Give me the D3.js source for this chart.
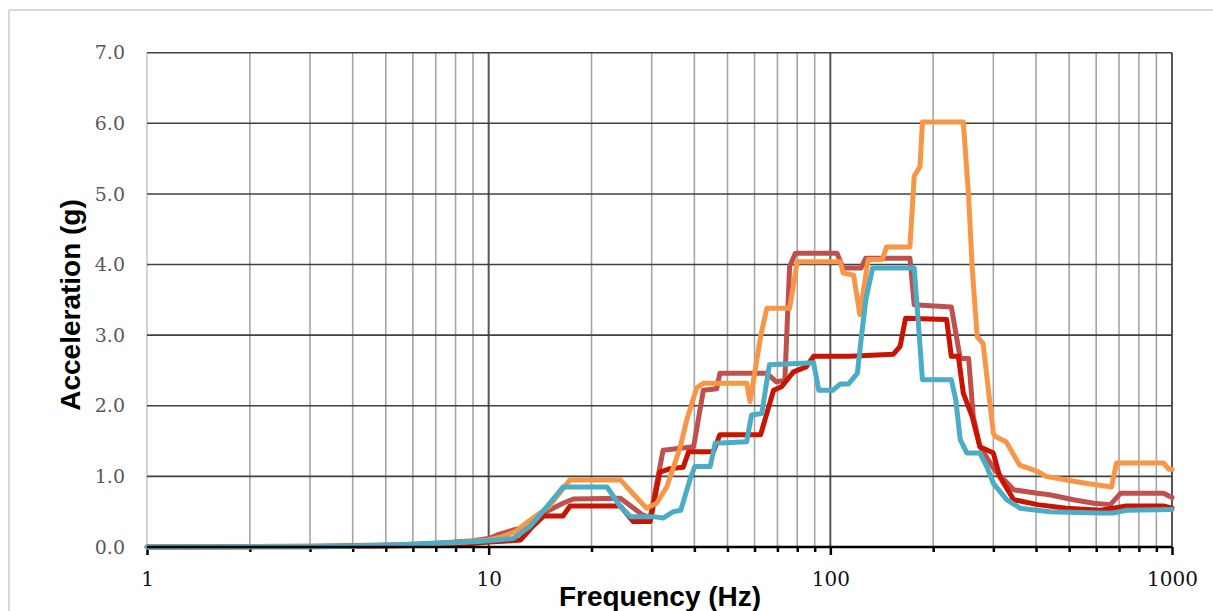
<!DOCTYPE html>
<html>
<head>
<meta charset="utf-8">
<script src="https://cdn.jsdelivr.net/npm/d3@7"></script>
<style>
  body { margin: 0; background: #fff; }
  svg { display: block; }
</style>
</head>
<body>
<script>
"use strict";
// frequency / acceleration pairs, one pair of arrays per curve
const mutedFreq = [1, 2, 3, 4, 5, 6, 7, 8, 9, 10, 10.6, 11.8, 13.2, 14.5, 16.5, 17.7, 24.3, 28.3, 29.7, 32.4, 39.8, 42.5, 46.5, 47.5, 65.2, 69.5, 73.6, 76, 79, 104.6, 109, 123, 127, 171, 176, 226, 233, 240, 254, 262, 274, 303, 344, 404, 438, 515, 590, 660, 707, 944, 1000]
const mutedVal = [0, 0.005, 0.01, 0.02, 0.03, 0.04, 0.05, 0.07, 0.09, 0.12, 0.17, 0.24, 0.29, 0.48, 0.62, 0.68, 0.69, 0.45, 0.42, 1.37, 1.42, 2.22, 2.24, 2.46, 2.46, 2.34, 2.36, 3.97, 4.16, 4.16, 3.95, 3.95, 4.09, 4.09, 3.43, 3.40, 3.03, 2.67, 2.67, 1.85, 1.42, 1.09, 0.81, 0.76, 0.74, 0.67, 0.62, 0.6, 0.76, 0.76, 0.70]

const darkFreq = [1, 2, 3, 4, 5, 6, 7, 8, 9, 10, 11, 12.4, 13.5, 14.5, 16.5, 17.3, 24.3, 26.5, 29.7, 31.7, 34, 37.1, 38.5, 45.5, 47.5, 62.5, 68.2, 72, 78, 85, 89.3, 114, 153, 160, 166, 219, 226, 237, 245, 260, 274, 300, 313, 344, 404, 491, 617, 672, 735, 944, 1000]
const darkVal = [0, 0.003, 0.005, 0.01, 0.015, 0.02, 0.03, 0.04, 0.05, 0.07, 0.08, 0.1, 0.3, 0.44, 0.44, 0.58, 0.58, 0.36, 0.36, 1.06, 1.11, 1.13, 1.35, 1.35, 1.59, 1.59, 2.22, 2.27, 2.48, 2.55, 2.70, 2.70, 2.73, 2.84, 3.24, 3.22, 2.70, 2.70, 2.18, 1.85, 1.42, 1.33, 1.0, 0.67, 0.6, 0.55, 0.52, 0.55, 0.58, 0.58, 0.55]

const orangeFreq = [1, 2, 3, 4, 5, 6, 7, 8, 9, 10, 11, 12, 13.2, 15, 17.3, 24.3, 26.5, 29, 31, 33.2, 36.3, 38, 40.6, 42.5, 56.9, 58.2, 62.5, 65.2, 76, 80, 107, 109, 117, 122, 129, 142, 146, 171, 176, 183, 186, 245, 254, 260, 269, 280, 300, 305, 327, 358, 404, 428, 491, 565, 665, 688, 944, 980, 1000]
const orangeVal = [0, 0.005, 0.01, 0.015, 0.02, 0.035, 0.05, 0.06, 0.08, 0.1, 0.15, 0.22, 0.38, 0.57, 0.95, 0.95, 0.75, 0.55, 0.62, 0.85, 1.4, 1.8, 2.25, 2.32, 2.32, 2.06, 2.98, 3.38, 3.38, 4.04, 4.04, 3.88, 3.85, 3.29, 4.07, 4.07, 4.25, 4.25, 5.25, 5.39, 6.02, 6.02, 4.96, 3.97, 2.98, 2.88, 1.61, 1.56, 1.49, 1.16, 1.07, 1.0, 0.95, 0.9, 0.85, 1.19, 1.19, 1.1, 1.1]

const tealFreq = [1, 3, 4, 5, 6, 7, 8, 9, 10, 11.8, 13.2, 14.8, 16.5, 22.2, 24.3, 26, 30.3, 32.4, 34.7, 36.5, 38.8, 40.1, 44.5, 46, 56.9, 58.8, 63, 66.3, 89.3, 92.5, 101.7, 107, 113, 120, 123, 127, 133, 176, 181, 186, 226, 233, 240, 251, 274, 287, 300, 328, 359, 438, 617, 672, 735, 1000]
const tealVal = [0, 0.005, 0.01, 0.025, 0.04, 0.055, 0.065, 0.075, 0.09, 0.12, 0.29, 0.57, 0.85, 0.85, 0.57, 0.43, 0.43, 0.41, 0.5, 0.52, 0.95, 1.14, 1.14, 1.47, 1.49, 1.87, 1.89, 2.58, 2.61, 2.22, 2.22, 2.31, 2.31, 2.46, 2.93, 3.5, 3.95, 3.95, 3.17, 2.37, 2.37, 2.08, 1.52, 1.33, 1.33, 1.14, 0.9, 0.67, 0.55, 0.5, 0.48, 0.48, 0.52, 0.53]

const yTicks = [0, 1, 2, 3, 4, 5, 6, 7]
const xLabels = [1, 10, 100, 1000]

const series = [
    { freq: mutedFreq, val: mutedVal, color: "#c0504d" },
    { freq: darkFreq, val: darkVal, color: "#c81400" },
    { freq: orangeFreq, val: orangeVal, color: "#f79646" },
    { freq: tealFreq, val: tealVal, color: "#4bacc6" }
]

const size = { width: 1213, height: 611 }
const plot = { left: 147, right: 1172, top: 52.7, bottom: 547 }

const svg = d3.select("body").append("svg")
    .attr("width", size.width)
    .attr("height", size.height)

// outer chart frame (only top and left edges are visible)
svg.append("path")
    .attr("d", "M9,611 V10 H1213")
    .attr("fill", "none")
    .attr("stroke", "#d9d9d9")
    .attr("stroke-width", 2)

const x = d3.scaleLog().domain([1, 1000]).range([plot.left, plot.right])
const y = d3.scaleLinear().domain([0, 7]).range([plot.bottom, plot.top])

// every 1..9 tick of each decade
const allTicks = []
for (let d = 1; d <= 100; d *= 10) {
    for (let k = 1; k < 10; k++) allTicks.push(d * k)
}
allTicks.push(1000)

// vertical grid
svg.append("g").selectAll("line")
    .data(allTicks)
    .enter().append("line")
    .attr("x1", d => x(d)).attr("x2", d => x(d))
    .attr("y1", plot.top).attr("y2", plot.bottom)
    .attr("stroke", d => d === 1 ? "#c8c8c8" : (xLabels.includes(d) ? "#555" : "#a6a6a6"))
    .attr("stroke-width", d => xLabels.includes(d) && d !== 1 ? 2 : 1.6)

// horizontal grid
svg.append("g").selectAll("line")
    .data(yTicks.filter(d => d > 0))
    .enter().append("line")
    .attr("x1", plot.left).attr("x2", plot.right)
    .attr("y1", d => y(d)).attr("y2", d => y(d))
    .attr("stroke", "#404040")
    .attr("stroke-width", 1.6)

// x axis
const xAxis = d3.axisBottom(x)
    .tickValues(allTicks)
    .tickSize(5)
    .tickPadding(20)
    .tickFormat(d => xLabels.includes(d) ? d : "")

const gx = svg.append("g")
    .attr("transform", `translate(0,${plot.bottom})`)
    .call(xAxis)
gx.select(".domain").remove()
gx.selectAll(".tick line")
    .attr("stroke", "#000")
    .attr("stroke-width", 2.5)
    .attr("y2", d => xLabels.includes(d) ? 8 : 5)
gx.selectAll(".tick text")
    .attr("font-family", "'DejaVu Serif', serif")
    .attr("font-size", 20)
    .attr("fill", "#111")

// y axis labels
const gy = svg.append("g")
    .attr("transform", `translate(${plot.left},0)`)
    .call(d3.axisLeft(y).tickValues(yTicks).tickSize(0).tickPadding(22).tickFormat(d3.format(".1f")))
gy.select(".domain").remove()
gy.selectAll(".tick text")
    .attr("font-family", "'DejaVu Serif', serif")
    .attr("font-size", 19)
    .attr("fill", "#595959")

// curves
const line = d3.line()
    .x(d => x(d[0]))
    .y(d => y(d[1]))

svg.append("g").selectAll("path")
    .data(series)
    .enter().append("path")
    .attr("d", s => line(s.freq.map((f, i) => [f, s.val[i]])))
    .attr("fill", "none")
    .attr("stroke", s => s.color)
    .attr("stroke-width", 5)
    .attr("stroke-linejoin", "round")
    .attr("stroke-linecap", "round")

// x axis line drawn over the curves
svg.append("line")
    .attr("x1", plot.left).attr("x2", plot.right)
    .attr("y1", plot.bottom).attr("y2", plot.bottom)
    .attr("stroke", "#000")
    .attr("stroke-width", 2.5)

// axis titles
svg.append("text")
    .attr("x", 660)
    .attr("y", 606)
    .attr("text-anchor", "middle")
    .attr("font-family", "'Liberation Sans', Arial, sans-serif")
    .attr("font-weight", "bold")
    .attr("font-size", 28)
    .text("Frequency (Hz)")

svg.append("text")
    .attr("transform", "translate(80,305) rotate(-90)")
    .attr("text-anchor", "middle")
    .attr("font-family", "'Liberation Sans', Arial, sans-serif")
    .attr("font-weight", "bold")
    .attr("font-size", 28)
    .text("Acceleration (g)")
</script>
</body>
</html>
